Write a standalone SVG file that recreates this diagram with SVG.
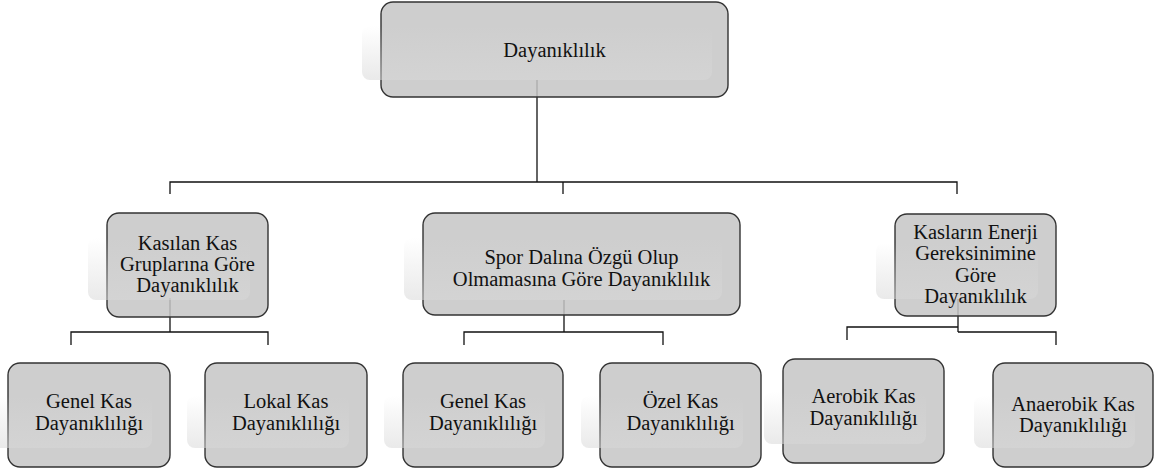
<svg xmlns="http://www.w3.org/2000/svg" width="1161" height="468" viewBox="0 0 1161 468">
  <defs>
    <linearGradient id="shg" x1="0" y1="0" x2="0" y2="1">
      <stop offset="0" stop-color="#d8d8d8" stop-opacity="0"/>
      <stop offset="0.35" stop-color="#d8d8d8" stop-opacity="0.2"/>
      <stop offset="1" stop-color="#d8d8d8" stop-opacity="0.55"/>
    </linearGradient>
  </defs>
  <style>
    .box { fill: #c6c6c6; fill-opacity: 0.85; stroke: #333333; stroke-width: 1.4; }
    .sh { fill: url(#shg); }
    .conn { fill: none; stroke: #111111; stroke-width: 1.3; }
    .t { font-family: 'Liberation Serif', 'Times New Roman', 'DejaVu Serif', serif; font-size: 20.5px; fill: #111111; text-anchor: middle; }
  </style>
  <rect width="1161" height="468" fill="#ffffff"/>

  <g id="connectors">
    <path class="conn" d="M537 80 V182"/>
    <path class="conn" d="M170 194 V182 H957 V194"/>
    <path class="conn" d="M563 182 V194"/>
    <path class="conn" d="M170 298 V332"/>
    <path class="conn" d="M71 345 V332 H268 V345"/>
    <path class="conn" d="M564 300 V332"/>
    <path class="conn" d="M464 345 V332 H663 V345"/>
    <path class="conn" d="M958 299 V332"/>
    <path class="conn" d="M847 340 V327 H958"/>
    <path class="conn" d="M958 332 H1056 V345"/>
  </g>

  <g id="n-root">
    <rect class="box" x="381" y="2" width="347" height="95" rx="12"/>
    <rect class="sh" x="362" y="26" width="350" height="54" rx="8"/>
    <text class="t" x="554.5" y="57">Dayanıklılık</text>
  </g>

  <g id="n-kasilan">
    <rect class="box" x="107" y="213" width="161" height="104" rx="12"/>
    <rect class="sh" x="88" y="238" width="162" height="62" rx="8"/>
    <text class="t" x="187.5" y="249.5">Kasılan Kas</text>
    <text class="t" x="187.5" y="271">Gruplarına Göre</text>
    <text class="t" x="187.5" y="292">Dayanıklılık</text>
  </g>

  <g id="n-spor">
    <rect class="box" x="423" y="213" width="317" height="102" rx="12"/>
    <rect class="sh" x="404" y="238" width="318" height="62" rx="8"/>
    <text class="t" x="581.5" y="264">Spor Dalına Özgü Olup</text>
    <text class="t" x="581.5" y="285.5">Olmamasına Göre Dayanıklılık</text>
  </g>

  <g id="n-enerji">
    <rect class="box" x="895" y="214" width="161" height="102" rx="12"/>
    <rect class="sh" x="876" y="243" width="162" height="56" rx="8"/>
    <text class="t" x="975.5" y="238.5">Kasların Enerji</text>
    <text class="t" x="975.5" y="260">Gereksinimine</text>
    <text class="t" x="975.5" y="281.5">Göre</text>
    <text class="t" x="975.5" y="303">Dayanıklılık</text>
  </g>

  <g id="n-genel1">
    <rect class="box" x="8" y="363" width="162" height="104" rx="12"/>
    <rect class="sh" x="-11" y="396" width="163" height="52" rx="8"/>
    <text class="t" x="89" y="408">Genel Kas</text>
    <text class="t" x="89" y="430">Dayanıklılığı</text>
  </g>

  <g id="n-lokal">
    <rect class="box" x="205" y="363" width="162" height="104" rx="12"/>
    <rect class="sh" x="187" y="396" width="162" height="52" rx="8"/>
    <text class="t" x="286" y="408">Lokal Kas</text>
    <text class="t" x="286" y="430">Dayanıklılığı</text>
  </g>

  <g id="n-genel2">
    <rect class="box" x="403" y="363" width="160" height="104" rx="12"/>
    <rect class="sh" x="384" y="396" width="161" height="52" rx="8"/>
    <text class="t" x="483" y="408">Genel Kas</text>
    <text class="t" x="483" y="430">Dayanıklılığı</text>
  </g>

  <g id="n-ozel">
    <rect class="box" x="600" y="363" width="161" height="104" rx="12"/>
    <rect class="sh" x="581" y="396" width="162" height="52" rx="8"/>
    <text class="t" x="680.5" y="408">Özel Kas</text>
    <text class="t" x="680.5" y="430">Dayanıklılığı</text>
  </g>

  <g id="n-aerobik">
    <rect class="box" x="783" y="359" width="161" height="104" rx="12"/>
    <rect class="sh" x="764" y="392" width="162" height="52" rx="8"/>
    <text class="t" x="863.5" y="403">Aerobik Kas</text>
    <text class="t" x="863.5" y="425">Dayanıklılığı</text>
  </g>

  <g id="n-anaerobik">
    <rect class="box" x="993" y="363" width="160" height="104" rx="12"/>
    <rect class="sh" x="974" y="396" width="161" height="52" rx="8"/>
    <text class="t" x="1073" y="410.5">Anaerobik Kas</text>
    <text class="t" x="1073" y="432">Dayanıklılığı</text>
  </g>
</svg>
